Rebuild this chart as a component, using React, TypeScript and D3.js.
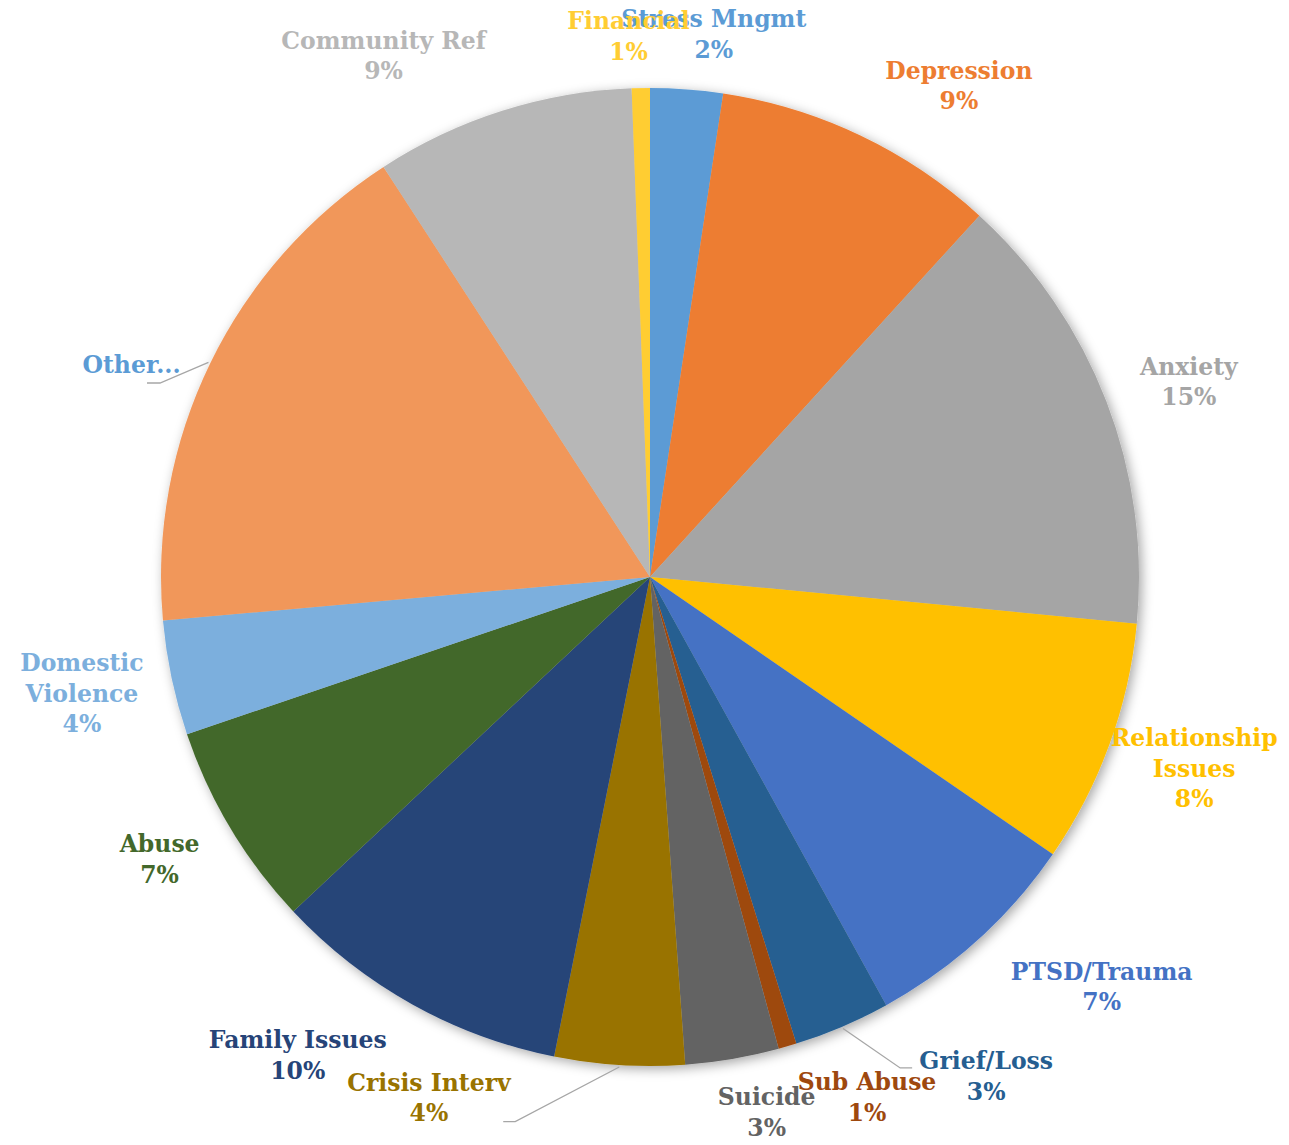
import React from "react";
import * as d3 from "d3";

const categories = [
  "Stress Mngmt", "Depression", "Anxiety", "Relationship Issues", "PTSD/Trauma",
  "Grief/Loss", "Sub Abuse", "Suicide", "Crisis Interv", "Family Issues",
  "Abuse", "Domestic Violence", "Other...", "Community Ref", "Financial",
];
const values = [24, 94, 148, 81, 74, 32, 6, 31, 43, 99, 68, 38, 173, 86, 6];
const colors = [
  "#5B9BD5", "#ED7D31", "#A5A5A5", "#FFC000", "#4472C4",
  "#255E91", "#9E480E", "#636363", "#997300", "#264478",
  "#43682B", "#7CAFDD", "#F1975A", "#B7B7B7", "#FFCD33",
];
const labelColors = [
  "#5B9BD5", "#ED7D31", "#A5A5A5", "#FFC000", "#4472C4",
  "#255E91", "#9E480E", "#636363", "#997300", "#264478",
  "#43682B", "#7CAFDD", "#5B9BD5", "#B7B7B7", "#FFCD33",
];
// label text lines (percent added separately unless hidden)
const labelLines = [
  ["Stress Mngmt"], ["Depression"], ["Anxiety"], ["Relationship", "Issues"], ["PTSD/Trauma"],
  ["Grief/Loss"], ["Sub Abuse"], ["Suicide"], ["Crisis Interv"], ["Family Issues"],
  ["Abuse"], ["Domestic", "Violence"], ["Other..."], ["Community Ref"], ["Financial"],
];
const showPercent = [true, true, true, true, true, true, true, true, true, true, true, true, false, true, true];

// label placement: angle shift (deg) from slice mid-angle, and distance from centre
const labelAngleShift = [2.4, 6.7, 1.2, -0.6, -5.6, -10.8, -6.3, -2.6, 19.4, 7.3, 1, 0.3, -3.7, -9.5, -1.2];
const labelRadius = [546, 580, 573, 577, 610, 602, 564, 548, 566, 594, 566, 580, 560, 585, 541];

// leader lines: index, elbow angle (deg), elbow radius, horizontal tail
const leaders = [
  { i: 12, angle: 291.6, r: 527, tail: -13 },
  { i: 5, angle: 153, r: 551, tail: 12 },
  { i: 8, angle: 193.9, r: 561, tail: -12 },
];

const W = 1289;
const H = 1145;
const CX = 650;
const CY = 577;
const R = 489;
const LINE_H = 30.5;

export default function App() {
  const total = d3.sum(values);
  const pie = d3.pie<number>().sort(null).value((d) => d)(values);
  const arc = d3.arc<d3.PieArcDatum<number>>().innerRadius(0).outerRadius(R);
  const toRad = (deg: number) => (deg * Math.PI) / 180;
  const polar = (a: number, r: number) => [CX + r * Math.sin(a), CY - r * Math.cos(a)];

  return (
    <svg width={W} height={H} style={{ position: "absolute", left: 0, top: 0, background: "#fff" }}
      fontFamily="'DejaVu Serif', serif" fontWeight="bold">
      <defs>
        <filter id="sh" x="-10%" y="-10%" width="120%" height="120%">
          <feDropShadow dx="3" dy="3" stdDeviation="6" floodColor="#000" floodOpacity="0.35" />
        </filter>
      </defs>
      <g transform={`translate(${CX},${CY})`} filter="url(#sh)">
        {pie.map((p, i) => (
          <path key={i} d={arc(p) || ""} fill={colors[i]} />
        ))}
      </g>
      {leaders.map((l) => {
        const p = pie[l.i];
        const mid = (p.startAngle + p.endAngle) / 2;
        const [x0, y0] = polar(mid, R + 2);
        const [x1, y1] = polar(toRad(l.angle), l.r);
        return (
          <polyline key={l.i} points={`${x0},${y0} ${x1},${y1} ${x1 + l.tail},${y1}`}
            fill="none" stroke="#A6A6A6" strokeWidth={1.3} />
        );
      })}
      {pie.map((p, i) => {
        const mid = (p.startAngle + p.endAngle) / 2 + toRad(labelAngleShift[i]);
        const [x, y] = polar(mid, labelRadius[i]);
        const lines = [...labelLines[i]];
        if (showPercent[i]) lines.push(`${Math.round((values[i] / total) * 100)}%`);
        const y0 = y - ((lines.length - 1) * LINE_H) / 2;
        return (
          <text key={i} x={x} y={y0} textAnchor="middle" dominantBaseline="central"
            fill={labelColors[i]} fontSize={23.5}>
            {lines.map((t, j) => (
              <tspan key={j} x={x} y={y0 + j * LINE_H}>{t}</tspan>
            ))}
          </text>
        );
      })}
    </svg>
  );
}
